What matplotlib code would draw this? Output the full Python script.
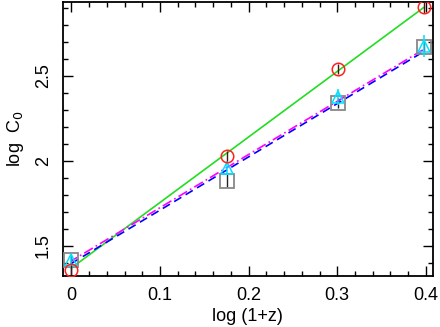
#!/usr/bin/env python3

import numpy as np
import matplotlib
matplotlib.use("Agg")
import matplotlib.pyplot as plt
from matplotlib.ticker import MultipleLocator

plt.rcParams["font.family"] = ["Liberation Sans", "DejaVu Sans"]

# log(1+z) for z = 0, 0.5, 1, 1.5
log1z = [0.0, 0.176, 0.301, 0.398]

# data points (log C0) and error bars
circ_y = [1.357, 2.03, 2.541, 2.905]
circ_err = [0.03, 0.03, 0.03, 0.035]
sq_y = [1.414, 1.883, 2.339, 2.673]
sq_err = [0.03, 0.04, 0.03, 0.03]
tri_y = [1.414, 1.956, 2.376, 2.675]
tri_err = [0.03, 0.04, 0.045, 0.065]

# fitted lines (end points)
fit_x = [0.0, 0.398]
fit_green = [1.368, 2.905]
fit_blue = [1.395, 2.645]
fit_magenta = [1.41, 2.658]

fig = plt.figure(figsize=(4.4, 3.27), dpi=100)
ax = fig.add_axes([0.143, 0.157, 0.84, 0.838])

ax.plot(fit_x, fit_green, color="#22dd22", lw=1.2, zorder=2)
ax.plot(fit_x, fit_blue, color="#0000ff", lw=1.2, ls=(0, (5, 3)), zorder=2)
ax.plot(fit_x, fit_magenta, color="#ff00ff", lw=1.2, ls=(2, (6, 2, 1, 2)), zorder=2)

ax.errorbar(log1z, sq_y, yerr=sq_err, fmt="s", ms=9.5, mfc="none", mec="#888888",
            mew=1.3, ecolor="#222222", elinewidth=1.0, capsize=0, zorder=3)
ax.errorbar(log1z, tri_y, yerr=tri_err, fmt="^", ms=8, mfc="none", mec="#00e0ff",
            mew=1.1, ecolor="#00e0ff", elinewidth=1.1, capsize=0, zorder=4)
ax.errorbar(log1z, circ_y, yerr=circ_err, fmt="o", ms=9, mfc="none", mec="#ff2020",
            mew=1.1, ecolor="#551111", elinewidth=1.0, capsize=0, zorder=5)

ax.set_xlim(-0.0095, 0.4075)
ax.set_ylim(1.323, 2.938)

ax.xaxis.set_major_locator(MultipleLocator(0.1))
ax.xaxis.set_minor_locator(MultipleLocator(0.02))
ax.yaxis.set_major_locator(MultipleLocator(0.5))
ax.yaxis.set_minor_locator(MultipleLocator(0.1))
ax.xaxis.set_major_formatter(plt.FuncFormatter(lambda v, p: "0" if abs(v) < 1e-9 else f"{v:.1f}"))
ax.yaxis.set_major_formatter(plt.FuncFormatter(lambda v, p: "2" if abs(v - 2) < 1e-9 else f"{v:g}"))

ax.tick_params(which="both", direction="in", top=True, right=True, labelsize=13, width=1.0)
ax.tick_params(which="major", length=7)
ax.tick_params(which="minor", length=3.5)
ax.tick_params(axis="x", pad=8)
ax.tick_params(axis="y", pad=8)
for lab in ax.get_yticklabels():
    lab.set_rotation(90)
    lab.set_va("center")
for s in ax.spines.values():
    s.set_linewidth(1.3)

ax.set_xlabel("log (1+z)", fontsize=13, labelpad=3)
ax.set_ylabel("log  C$_0$", fontsize=13, labelpad=6)

fig.savefig("out.png", dpi=100)
